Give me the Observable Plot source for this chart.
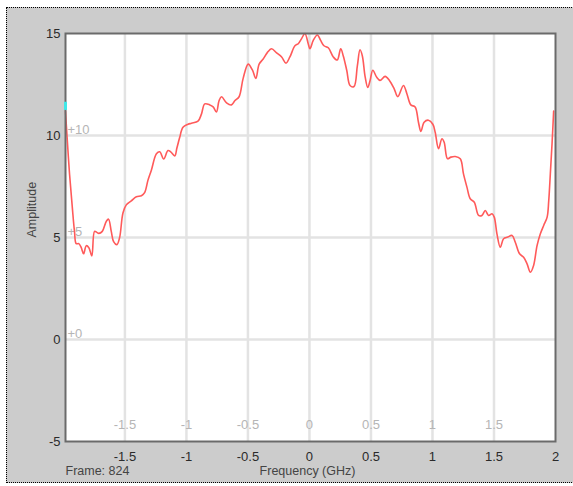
<!DOCTYPE html>
<html>
<head>
<meta charset="utf-8">
<script src="https://cdn.jsdelivr.net/npm/d3@7"></script>
<script src="https://cdn.jsdelivr.net/npm/@observablehq/plot@0.6"></script>
<style>
  html, body { margin: 0; padding: 0; background: #ffffff; }
  #wrap { position: relative; width: 573px; height: 486px; overflow: hidden; }
  #panel { position: absolute; left: 6px; top: 7px; width: 568px; height: 476px;
           background: #cccccc; border: 1px dotted #000; box-sizing: border-box; }
  #wrap svg { position: absolute; left: 0; top: 0; background: transparent; }
</style>
</head>
<body>
<div id="wrap"><div id="panel"></div></div>
<script>
// Frequency (GHz) and amplitude
const freq = [-1.983,-1.972,-1.950,-1.928,-1.910,-1.896,-1.875,-1.855,-1.836,-1.814,-1.793,-1.769,-1.747,-1.728,-1.712,-1.684,-1.651,-1.633,-1.611,-1.592,-1.565,-1.543,-1.516,-1.489,-1.448,-1.407,-1.366,-1.340,-1.313,-1.285,-1.244,-1.217,-1.185,-1.150,-1.128,-1.095,-1.077,-1.055,-1.028,-0.987,-0.959,-0.906,-0.878,-0.851,-0.810,-0.783,-0.756,-0.735,-0.715,-0.674,-0.634,-0.607,-0.572,-0.539,-0.498,-0.463,-0.436,-0.409,-0.376,-0.344,-0.308,-0.267,-0.226,-0.191,-0.159,-0.118,-0.091,-0.064,-0.037,-0.010,0.004,0.031,0.064,0.091,0.118,0.153,0.194,0.226,0.254,0.275,0.303,0.330,0.362,0.389,0.411,0.430,0.452,0.474,0.493,0.515,0.547,0.574,0.615,0.650,0.688,0.718,0.764,0.792,0.824,0.859,0.886,0.906,0.932,0.967,1.003,1.022,1.049,1.077,1.095,1.122,1.150,1.185,1.226,1.252,1.280,1.307,1.340,1.375,1.402,1.429,1.456,1.484,1.502,1.524,1.551,1.578,1.611,1.647,1.673,1.708,1.741,1.769,1.796,1.822,1.850,1.877,1.904,1.932,1.945,1.958,1.972,1.985];
const amp = [11.2,10.1,8.1,6.5,5.3,4.7,4.7,4.5,4.2,4.6,4.5,4.1,5.3,5.25,5.2,5.3,5.8,5.9,5.3,4.8,4.65,5.0,6.2,6.6,6.8,7.0,7.05,7.2,7.8,8.3,9.1,9.2,8.85,9.26,9.2,9.0,9.4,9.9,10.4,10.55,10.6,10.7,11.05,11.55,11.5,11.4,11.15,11.7,11.9,11.6,11.5,11.7,11.9,12.8,13.5,13.2,12.8,13.5,13.75,14.05,14.25,14.05,13.85,13.55,13.85,14.4,14.5,14.75,15.0,14.5,14.25,14.66,14.93,14.66,14.4,14.3,13.85,13.7,14.25,13.9,13.2,12.45,12.4,13.4,14.2,13.9,12.9,12.35,12.7,13.2,12.85,12.7,12.9,12.7,12.3,11.9,12.45,12.05,11.5,11.4,10.65,10.2,10.65,10.75,10.55,10.16,9.35,9.84,9.67,8.86,8.94,8.97,8.86,8.12,7.47,6.9,6.73,6.08,6.08,6.32,6.08,6.16,6.0,5.18,4.52,4.94,5.02,5.1,4.77,4.2,4.03,3.71,3.3,3.63,4.6,5.18,5.59,6.0,6.8,8.12,9.6,11.2];

// Axes
const xDomain = [-1.983, 2];
const yDomain = [-5, 15];
const xTicks = [-1.5, -1, -0.5, 0, 0.5, 1, 1.5, 2];
const yTicks = [-5, 0, 5, 10, 15];
const xInnerLabels = [-1.5, -1, -0.5, 0, 0.5, 1, 1.5];
const yInnerLabels = ["+10", "+5", "+0"];
const yInnerValues = [10, 5, 0];
const xGrid = [-1.5, -1, -0.5, 0, 0.5, 1, 1.5];
const yGrid = [0, 5, 10];
const marker = [{y1: 11.23, y2: 11.63}];

const xTitle = "Frequency (GHz)";
const yTitle = "Amplitude";
const frameText = "Frame: 824";

const data = freq.map((f, i) => ({f, a: amp[i]}));

const chart = Plot.plot({
  width: 573,
  height: 486,
  marginLeft: 65,
  marginRight: 18,
  marginTop: 33,
  marginBottom: 45,
  style: {fontFamily: "'Liberation Sans', Arial, sans-serif", fontSize: "13px", background: "transparent", color: "#333"},
  x: {domain: xDomain, ticks: xTicks, tickFormat: d => String(d), tickSize: 0, tickPadding: 10, label: null},
  y: {domain: yDomain, ticks: yTicks, tickFormat: d => String(d), tickSize: 0, tickPadding: 5, label: null},
  marks: [
    Plot.frame({fill: "#ffffff"}),
    Plot.ruleX(xGrid, {stroke: "#e3e3e3", strokeWidth: 2.5}),
    Plot.ruleY(yGrid, {stroke: "#e3e3e3", strokeWidth: 2.5}),
    Plot.text(xInnerLabels, {x: d => d, frameAnchor: "bottom", dy: -13, text: d => String(d), fill: "#b5b5b5", fontSize: 13}),
    Plot.text(yInnerValues, {y: d => d, frameAnchor: "left", dx: 2, dy: -6, textAnchor: "start", text: (d, i) => yInnerLabels[i], fill: "#b5b5b5", fontSize: 13}),
    Plot.line(data, {x: "f", y: "a", stroke: "#ff5a5a", strokeWidth: 1.6, curve: "catmull-rom"}),
    Plot.frame({stroke: "#6a6a6a", strokeWidth: 2}),
    Plot.ruleX(marker, {x: xDomain[0], y1: "y1", y2: "y2", stroke: "#40e8e8", strokeWidth: 3}),
    Plot.axisX({ticks: xTicks, tickFormat: d => String(d), tickSize: 0, tickPadding: 10, label: null, fill: "#2a2a2a"}),
    Plot.axisY({ticks: yTicks, tickFormat: d => String(d), tickSize: 0, tickPadding: 5, label: null, fill: "#2a2a2a"}),
    Plot.text([frameText], {frameAnchor: "bottom-left", dy: 33, textAnchor: "start", fill: "#444", fontSize: 12.5}),
    Plot.text([xTitle], {frameAnchor: "bottom", dy: 33, dx: -3, fill: "#444", fontSize: 12.5}),
    Plot.text([yTitle], {frameAnchor: "left", dx: -34, rotate: -90, fill: "#444", fontSize: 12.5})
  ]
});
document.getElementById("wrap").appendChild(chart);
</script>
</body>
</html>
